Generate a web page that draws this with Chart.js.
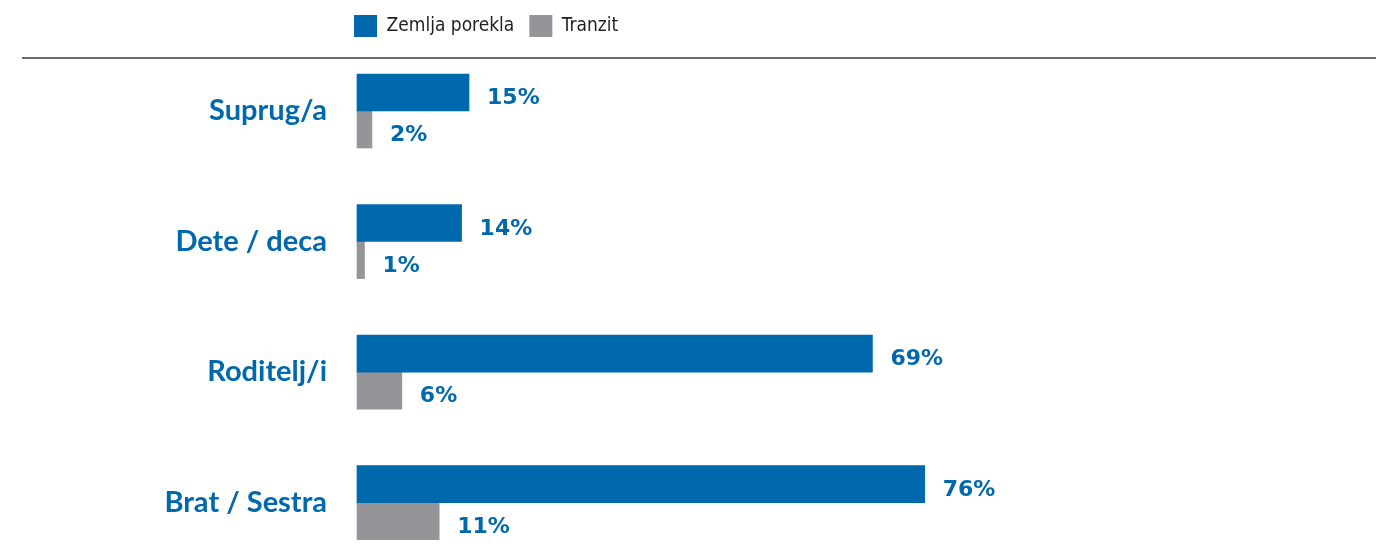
<!DOCTYPE html>
<html lang="sr">
<head>
<meta charset="UTF-8">
<title>Srodstvo</title>
<script src="https://cdn.jsdelivr.net/npm/chart.js"></script>
<style>
    html, body { margin: 0; padding: 0; background: #ffffff; }
    #okvir { width: 1376px; height: 550px; position: relative; }
</style>
</head>
<body>
<div id="okvir">
    <canvas id="grafik"></canvas>
</div>

<script>
// podaci
const kategorije = ['Suprug/a', 'Dete / deca', 'Roditelj/i', 'Brat / Sestra'];
const zemljaPorekla = [15, 14, 69, 76];
const tranzit = [2, 1, 6, 11];
const nazivSerija = ['Zemlja porekla', 'Tranzit'];

const PLAVA = '#0068ac';
const SIVA = '#939598';

// vrednosti u procentima desno od stubića
const oznakeVrednosti = {
    id: 'oznakeVrednosti',
    afterDatasetsDraw(chart) {
        const ctx = chart.ctx;
        ctx.save();
        ctx.font = 'bold 22px "DejaVu Sans", sans-serif';
        ctx.fillStyle = PLAVA;
        ctx.textAlign = 'left';
        ctx.textBaseline = 'middle';
        chart.data.datasets.forEach(function (ds, i) {
            chart.getDatasetMeta(i).data.forEach(function (bar, j) {
                ctx.fillText(ds.data[j] + '%', bar.x + 18, bar.y + 6);
            });
        });
        ctx.restore();
    }
};

// legenda pomerena ulevo + linija ispod nje
const legendaILinija = {
    id: 'legendaILinija',
    afterLayout(chart) {
        chart.legend.left = 339;
    },
    afterDraw(chart) {
        const ctx = chart.ctx;
        const y = chart.legend.bottom + 11;
        ctx.save();
        ctx.strokeStyle = '#3a3a3a';
        ctx.lineWidth = 1.5;
        ctx.beginPath();
        ctx.moveTo(22, y);
        ctx.lineTo(chart.width, y);
        ctx.stroke();
        ctx.restore();
    }
};

const config = {
    type: 'bar',
    data: {
        labels: kategorije,
        datasets: [{
            label: nazivSerija[0],
            data: zemljaPorekla,
            backgroundColor: PLAVA,
            barThickness: 37,
            clip: false
        }, {
            label: nazivSerija[1],
            data: tranzit,
            backgroundColor: SIVA,
            barThickness: 37,
            clip: false
        }]
    },
    options: {
        indexAxis: 'y',
        responsive: true,
        maintainAspectRatio: false,
        animation: false,
        layout: {
            padding: { top: 0, right: 272, bottom: 46, left: 0 }
        },
        plugins: {
            legend: {
                position: 'top',
                align: 'start',
                labels: {
                    boxWidth: 23,
                    boxHeight: 22,
                    padding: 15,
                    color: '#231f20',
                    font: { family: '"DejaVu Sans Condensed", sans-serif', size: 19 }
                }
            },
            tooltip: { enabled: false }
        },
        scales: {
            x: {
                position: 'top',
                min: 0,
                max: 100,
                grid: { display: false, drawTicks: false },
                border: { display: false },
                ticks: { display: false },
                afterFit(scale) {
                    scale.height = 64;
                }
            },
            y: {
                offset: false,
                grid: { display: false, drawTicks: false },
                border: { display: false },
                ticks: {
                    color: PLAVA,
                    padding: 30,
                    font: { family: 'Lato, sans-serif', weight: 'bold', size: 29 }
                },
                afterFit(scale) {
                    scale.width = 357;
                }
            }
        }
    },
    plugins: [oznakeVrednosti, legendaILinija]
};

new Chart(document.getElementById('grafik').getContext('2d'), config);
</script>
</body>
</html>
